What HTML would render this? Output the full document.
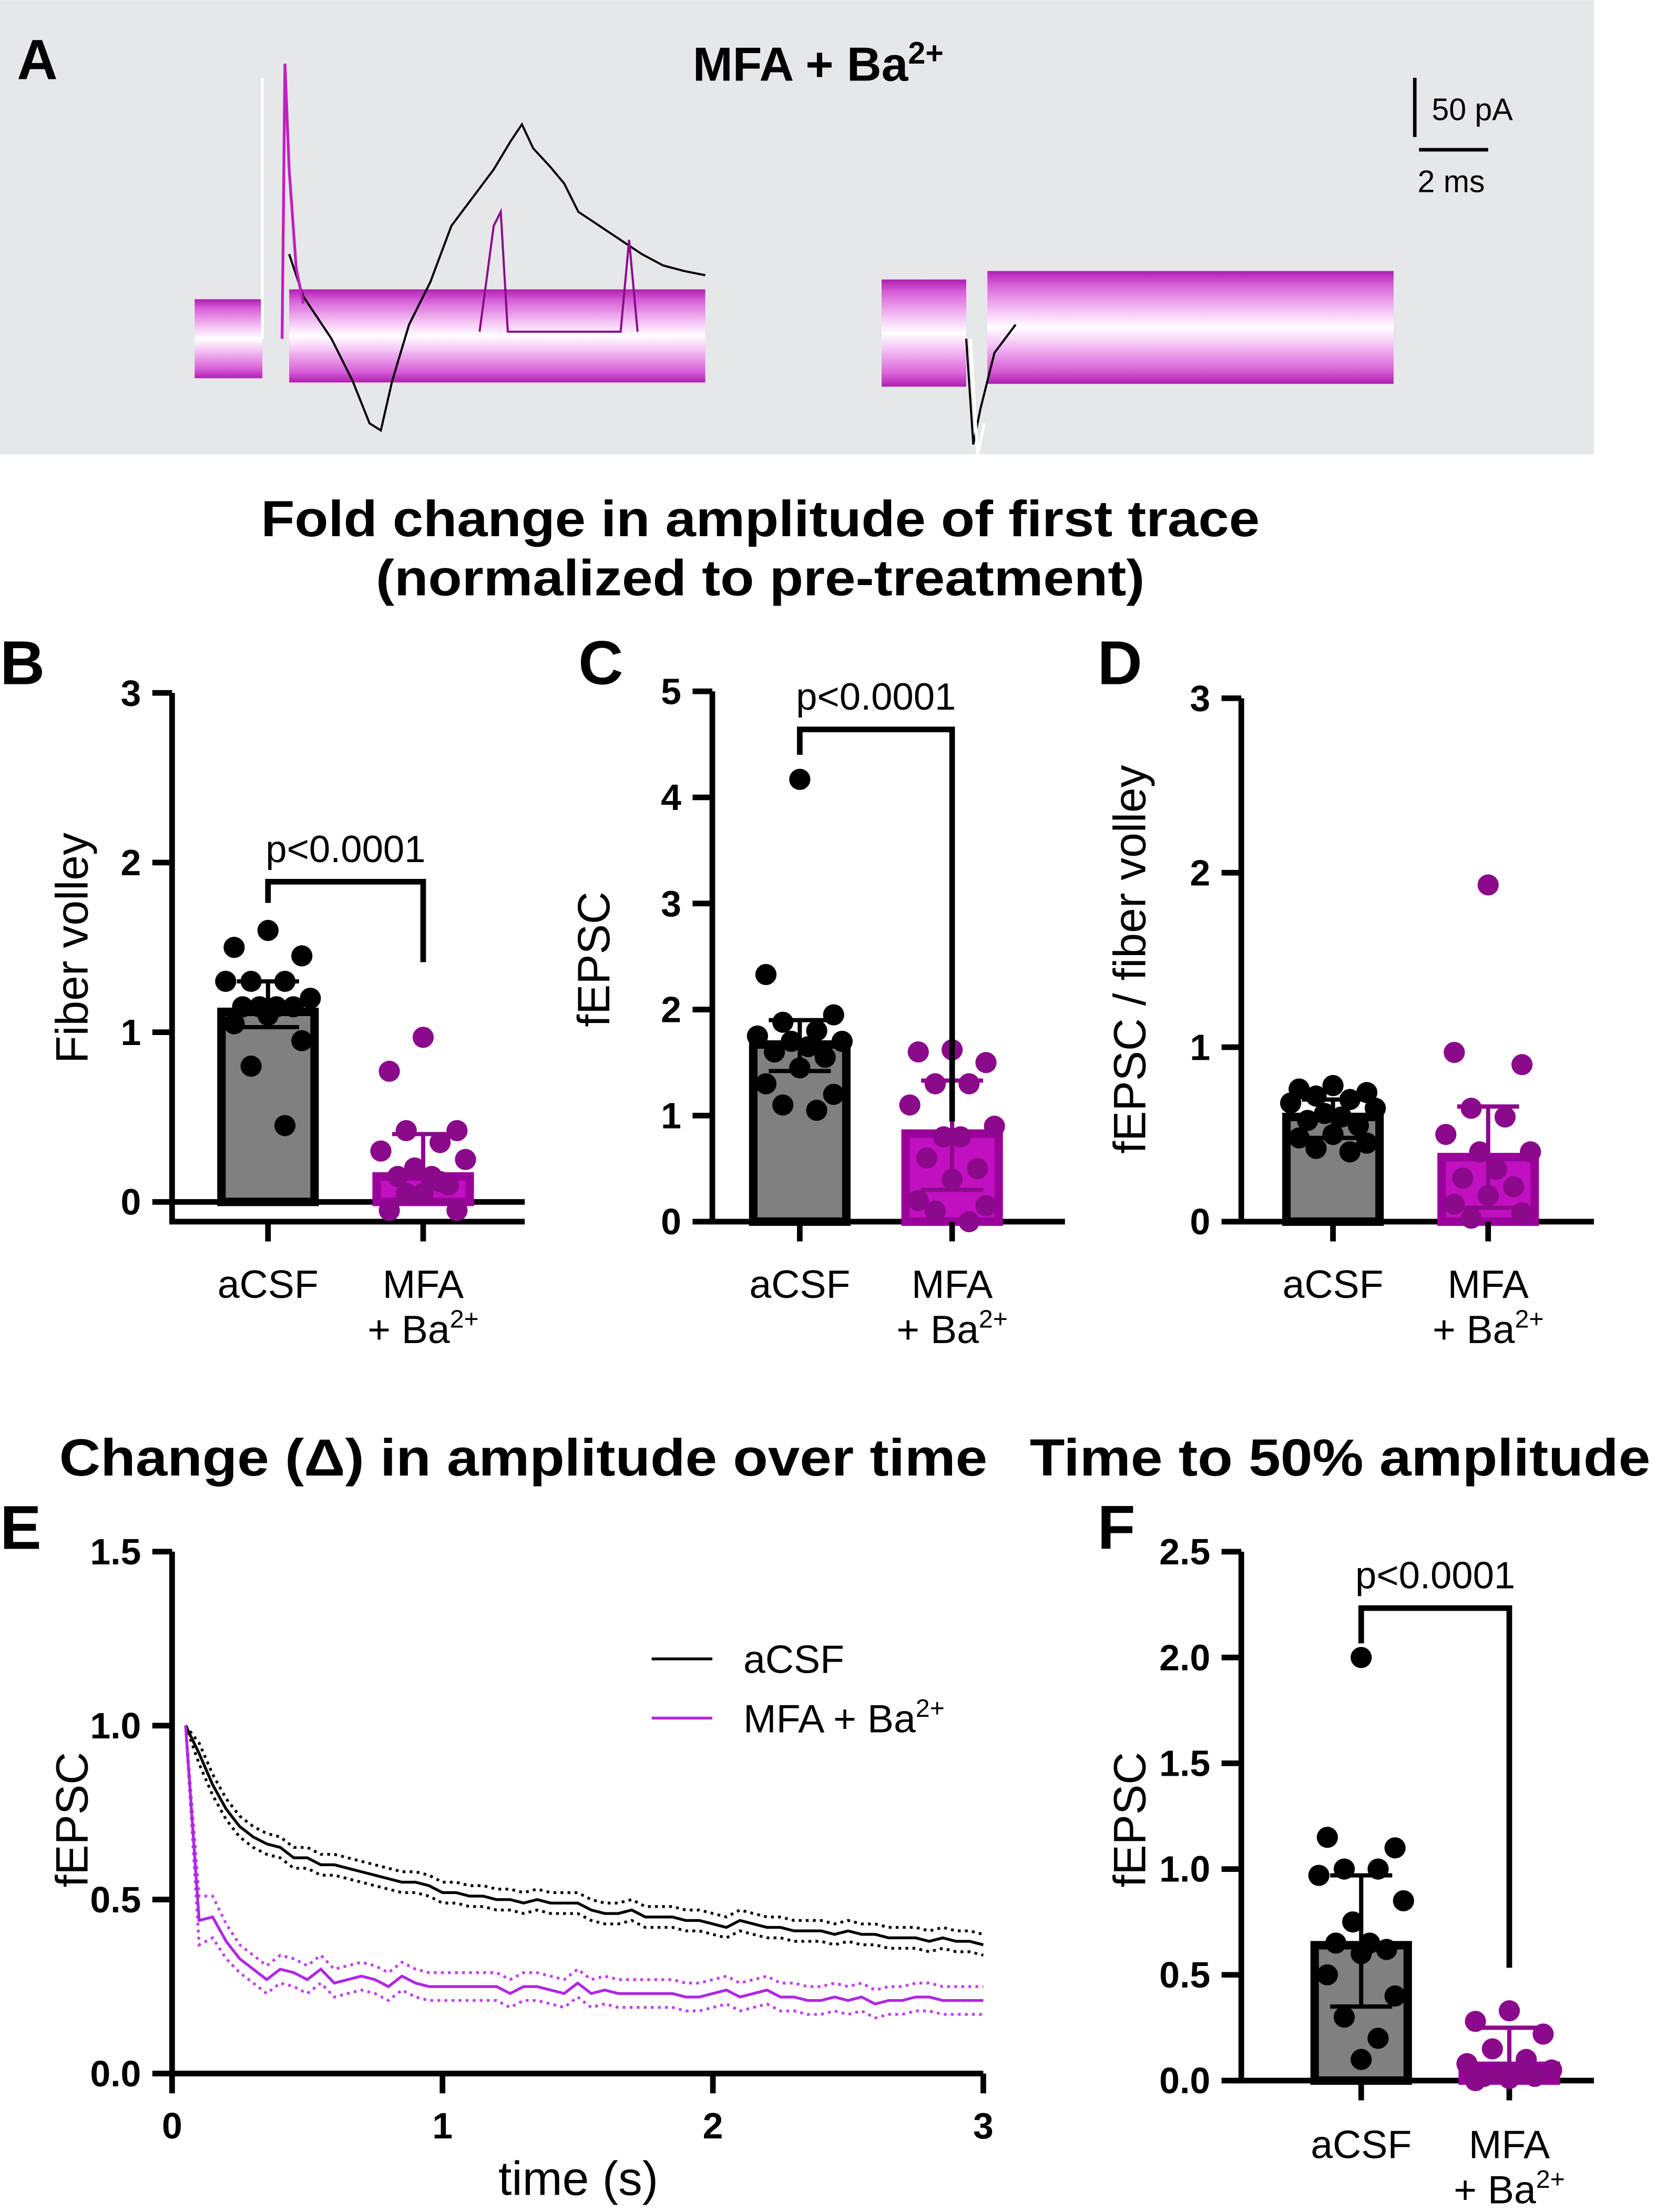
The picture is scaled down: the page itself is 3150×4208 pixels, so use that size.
<!DOCTYPE html>
<html><head><meta charset="utf-8"><style>
html,body{margin:0;padding:0;background:#fff;}
svg{display:block;font-family:"Liberation Sans",Arial,sans-serif;}
.b{font-weight:bold;}
</style></head><body>
<svg id="fig" width="3150" height="4208" viewBox="0 0 1174 1568" xmlns="http://www.w3.org/2000/svg">
<defs>
<linearGradient id="band" x1="0" y1="0" x2="0" y2="1">
<stop offset="0" stop-color="#b020b0"/><stop offset="0.12" stop-color="#d860d8"/><stop offset="0.35" stop-color="#f4c4f4"/><stop offset="0.5" stop-color="#ffffff"/><stop offset="0.65" stop-color="#f4c4f4"/><stop offset="0.88" stop-color="#d860d8"/><stop offset="1" stop-color="#b020b0"/>
</linearGradient>
</defs>
<g>
<rect x="0" y="0" width="1130" height="322" fill="#e6e7e8"/>
<text x="12" y="56" font-size="40" class="b">A</text>
<text x="580" y="57" font-size="34" class="b" text-anchor="middle">MFA + Ba<tspan font-size="22" dy="-12">2+</tspan></text>
<g>
<line x1="1003" y1="55" x2="1003" y2="97" stroke="#000" stroke-width="2.5"/>
<line x1="1006" y1="106" x2="1055" y2="106" stroke="#000" stroke-width="2.5"/>
<text x="1015" y="85" font-size="22">50 pA</text>
<text x="1005" y="136" font-size="22">2 ms</text>
</g>
<g>
<rect x="138" y="212" width="48" height="56" fill="url(#band)"/>
<rect x="205" y="205" width="295" height="66" fill="url(#band)"/>
<rect x="625" y="198" width="60" height="76" fill="url(#band)"/>
<rect x="700" y="192" width="288" height="80" fill="url(#band)"/>
<polyline fill="none" stroke="#000" stroke-width="1.5" points="205,180 215,210 235,240 250,270 262,300 270,305 278,270 290,230 305,200 320,160 335,140 350,120 362,100 370,88 378,105 390,118 400,130 410,150 425,160 440,170 455,180 470,188 485,192 500,195"/>
<polyline fill="none" stroke="#8b0a8b" stroke-width="1.5" points="340,235 350,160 355,150 360,235 440,235 446,170 452,235"/>
<polyline fill="none" stroke="#c020c0" stroke-width="2" points="200,240 202,45 205,120 210,190 215,215"/>
<line x1="186" y1="55" x2="186" y2="240" stroke="#fff" stroke-width="2"/>
<polyline fill="none" stroke="#000" stroke-width="1.5" points="685,240 690,315 695,290 705,250 720,230"/>
<polyline fill="none" stroke="#fff" stroke-width="2" points="688,240 693,322 698,300"/>
</g>
</g>
<text x="539" y="380" font-size="36" class="b" text-anchor="middle" textLength="708" lengthAdjust="spacingAndGlyphs">Fold change in amplitude of first trace</text>
<text x="539" y="422" font-size="36" class="b" text-anchor="middle" textLength="545" lengthAdjust="spacingAndGlyphs">(normalized to pre-treatment)</text>
<text x="371" y="1046" font-size="37" class="b" text-anchor="middle" textLength="658" lengthAdjust="spacingAndGlyphs">Change (Δ) in amplitude over time</text>
<text x="950" y="1046" font-size="37" class="b" text-anchor="middle" textLength="440" lengthAdjust="spacingAndGlyphs">Time to 50% amplitude</text>
</svg>
<script>
const NS="http://www.w3.org/2000/svg";
const svg=document.getElementById('fig');
// Panel B data
const bCats=["aCSF","MFA"];
const bMeans=[1.12,0.15];
const bErr=[[1.03,1.3],[0.0,0.4]];
const bA=[1.6,1.5,1.45,1.3,1.3,1.3,1.2,1.15,1.15,1.15,1.15,1.1,1.05,0.95,0.8,0.45];
const bM=[0.97,0.77,0.42,0.42,0.35,0.3,0.25,0.2,0.15,0.15,0.1,0.05,-0.05,-0.05,0.05,0.12];
const bTicks=[0,1,2,3];
// Panel C data
const cMeans=[1.67,0.83];
const cErr=[[1.42,1.9],[0.3,1.33]];
const cA=[4.17,2.33,1.95,1.88,1.8,1.75,1.7,1.7,1.65,1.6,1.55,1.45,1.3,1.2,1.1,1.05];
const cM=[1.62,1.6,1.5,1.3,1.3,1.1,0.9,0.8,0.8,0.6,0.5,0.4,0.2,0.15,0.1,0.0];
const cTicks=[0,1,2,3,4,5];
// Panel D data
const dMeans=[0.6,0.37];
const dErr=[[0.48,0.7],[0.08,0.66]];
const dA=[0.78,0.76,0.74,0.72,0.7,0.68,0.65,0.62,0.6,0.58,0.55,0.5,0.48,0.45,0.42,0.4];
const dM=[1.93,0.97,0.9,0.65,0.6,0.5,0.4,0.4,0.3,0.25,0.2,0.15,0.1,0.05,0.02];
const dTicks=[0,1,2,3];
// Panel F data
const fMeans=[0.64,0.07];
const fErr=[[0.35,0.97],[0,0.25]];
const fA=[2.0,1.15,1.1,1.0,1.0,0.97,0.85,0.75,0.65,0.65,0.62,0.6,0.5,0.4,0.3,0.2,0.1];
const fM=[0.33,0.28,0.22,0.15,0.1,0.08,0.05,0.04,0.03,0.02,0.02,0.01,0.0];
const fTicks=["0.0","0.5","1.0","1.5","2.0","2.5"];
// Panel E data
const eTime=[0.05,0.1,0.15,0.2,0.25,0.3,0.35,0.4,0.45,0.5,0.55,0.6,0.65,0.7,0.75,0.8,0.85,0.9,0.95,1.0,1.05,1.1,1.15,1.2,1.25,1.3,1.35,1.4,1.45,1.5,1.55,1.6,1.65,1.7,1.75,1.8,1.85,1.9,1.95,2.0,2.05,2.1,2.15,2.2,2.25,2.3,2.35,2.4,2.45,2.5,2.55,2.6,2.65,2.7,2.75,2.8,2.85,2.9,2.95,3.0];
const eACSF=[1.0,0.92,0.83,0.76,0.71,0.68,0.66,0.65,0.62,0.62,0.6,0.6,0.59,0.58,0.57,0.56,0.55,0.55,0.54,0.52,0.52,0.51,0.51,0.5,0.5,0.49,0.5,0.49,0.49,0.49,0.47,0.46,0.46,0.47,0.45,0.45,0.45,0.44,0.44,0.43,0.42,0.44,0.43,0.42,0.42,0.41,0.41,0.41,0.4,0.41,0.4,0.4,0.39,0.39,0.39,0.38,0.39,0.38,0.38,0.37];
const eACSFerr=[0,0.03,0.03,0.03,0.03,0.03,0.03,0.03,0.03,0.03,0.03,0.03,0.03,0.03,0.03,0.03,0.03,0.03,0.03,0.03,0.03,0.03,0.03,0.03,0.03,0.03,0.03,0.03,0.03,0.03,0.03,0.03,0.03,0.03,0.03,0.03,0.03,0.03,0.03,0.03,0.03,0.03,0.03,0.03,0.03,0.03,0.03,0.03,0.03,0.03,0.03,0.03,0.03,0.03,0.03,0.03,0.03,0.03,0.03,0.03];
const eMFA=[1.0,0.44,0.45,0.38,0.33,0.3,0.27,0.3,0.29,0.27,0.3,0.26,0.27,0.28,0.27,0.25,0.28,0.26,0.25,0.25,0.25,0.25,0.25,0.25,0.23,0.25,0.25,0.24,0.23,0.26,0.23,0.24,0.23,0.23,0.23,0.23,0.23,0.22,0.22,0.23,0.24,0.22,0.23,0.24,0.22,0.22,0.21,0.21,0.22,0.21,0.22,0.2,0.21,0.21,0.22,0.22,0.21,0.21,0.21,0.21];
const eMFAerr=[0,0.07,0.06,0.05,0.04,0.04,0.04,0.04,0.04,0.04,0.04,0.04,0.04,0.04,0.04,0.04,0.04,0.04,0.04,0.04,0.04,0.04,0.04,0.04,0.04,0.04,0.04,0.04,0.04,0.04,0.04,0.04,0.04,0.04,0.04,0.04,0.04,0.04,0.04,0.04,0.04,0.04,0.04,0.04,0.04,0.04,0.04,0.04,0.04,0.04,0.04,0.04,0.04,0.04,0.04,0.04,0.04,0.04,0.04,0.04];
const eYTicks=["0.0","0.5","1.0","1.5"];
const eXTicks=[0,1,2,3];

function mk(tag,attrs,parent){const el=document.createElementNS(NS,tag);for(const k in attrs)el.setAttribute(k,attrs[k]);(parent||svg).appendChild(el);return el;}
const JIT=[0,-24,24,-12,12,-30,30,-6,6,-18,18,0,-24,24,-12,12,0];
function barPanel(o){
  const g=mk('g',{});
  
  
  const y=v=>o.y0-(v-o.min)*o.ppu;
  const L=mk('text',{x:o.lx,y:o.ly,'font-size':44,'font-weight':'bold'},g);L.textContent=o.letter;
  
  
  const yt=mk('text',{x:0,y:0,'font-size':32,'text-anchor':'middle',transform:`translate(${o.titleX},${o.titleY}) rotate(-90)`},g);yt.textContent=o.ytitle;
  
  
  const ax=mk('line',{x1:o.ax,y1:y(o.max),x2:o.ax,y2:o.axBottom,stroke:'#000','stroke-width':4},g);
  
  
  const xa=mk('line',{x1:o.ax-2,y1:o.axBottom,x2:o.ax+250,y2:o.axBottom,stroke:'#000','stroke-width':4},g);
  
  
  o.ticks.forEach(t=>{const v=parseFloat(t);
    mk('line',{x1:o.ax-14,y1:y(v),x2:o.ax,y2:y(v),stroke:'#000','stroke-width':4},g);
    const tl=mk('text',{x:o.ax-22,y:y(v)+9,'font-size':26,'font-weight':'bold','text-anchor':'end'},g);tl.textContent=t;
    
    
  });
  if(o.zeroLine){const zl=mk('line',{x1:o.ax,y1:y(0),x2:o.ax+250,y2:y(0),stroke:'#000','stroke-width':4},g);
    
    }
  const cx=[o.ax+o.c1,o.ax+o.c2];
  const fills=['#808080','#c010c0'],strokes=['#000','#9a009a'],dots=['#000','#8b0a8b'];
  o.means.forEach((m,i)=>{
    const base=y(Math.max(o.min,0));
    const r=mk('rect',{x:cx[i]-33,y:Math.min(y(m),base),width:66,height:Math.abs(base-y(m)),fill:fills[i],stroke:strokes[i],'stroke-width':6},g);
    
    
    mk('line',{x1:cx[i],y1:o.axBottom,x2:cx[i],y2:o.axBottom+14,stroke:'#000','stroke-width':4},g);
    const pts=i==0?o.A:o.M;
    pts.forEach((v,j)=>{const c=mk('circle',{cx:cx[i]+JIT[j%JIT.length],cy:y(v),r:7.5,fill:dots[i]},g);
      
      });
    const e=o.err[i];
    const el=mk('path',{d:`M${cx[i]},${y(e[0])}V${y(e[1])}M${cx[i]-22},${y(e[0])}H${cx[i]+22}M${cx[i]-22},${y(e[1])}H${cx[i]+22}`,stroke:dots[i],'stroke-width':3,fill:'none'},g);
    
    
  });
  const l1=mk('text',{x:cx[0],y:o.labY,'font-size':28,'text-anchor':'middle'},g);l1.textContent='aCSF';
  
  
  const l2=mk('text',{x:cx[1],y:o.labY,'font-size':28,'text-anchor':'middle'},g);l2.textContent='MFA';
  
  
  const l3=mk('text',{x:cx[1],y:o.labY+32,'font-size':28,'text-anchor':'middle'},g);l3.innerHTML='+ Ba<tspan font-size="18" dy="-11">2+</tspan>';
  
  
  if(o.br){const b=o.br;
    const p=mk('path',{d:`M${cx[0]},${b[0]}V${b[1]}H${cx[1]}V${b[2]}`,stroke:'#000','stroke-width':4,fill:'none'},g);
    
    
    const t=mk('text',{x:(cx[0]+cx[1])/2,y:b[1]-14,'font-size':27,'text-anchor':'middle'},g);t.textContent='p<0.0001';
    
    }
}
barPanel({name:'panel-b',letter:'B',lx:0,ly:485,ytitle:'Fiber volley',titleX:62,titleY:672,ax:122,y0:852,min:0,max:3,ppu:120.3,axBottom:866,ticks:bTicks,zeroLine:true,c1:68,c2:178,means:bMeans,err:bErr,A:bA,M:bM,cats:bCats,labY:920,br:[640,625,682]});
barPanel({name:'panel-c',letter:'C',lx:410,ly:485,ytitle:'fEPSC',titleX:432,titleY:680,ax:505,y0:866,min:0,max:5,ppu:75.2,axBottom:866,ticks:cTicks,c1:62,c2:170,means:cMeans,err:cErr,A:cA,M:cM,cats:bCats,labY:920,br:[535,517,795]});
barPanel({name:'panel-d',letter:'D',lx:778,ly:485,ytitle:'fEPSC / fiber volley',titleX:812,titleY:680,ax:880,y0:866,min:0,max:3,ppu:123.7,axBottom:866,ticks:dTicks,c1:65,c2:175,means:dMeans,err:dErr,A:dA,M:dM,cats:bCats,labY:920});
barPanel({name:'panel-f',letter:'F',lx:778,ly:1098,ytitle:'fEPSC',titleX:812,titleY:1290,ax:880,y0:1475,min:0,max:2.5,ppu:150,axBottom:1475,ticks:fTicks,c1:85,c2:190,means:fMeans,err:fErr,A:fA,M:fM,cats:bCats,labY:1530,br:[1165,1140,1395]});

// Panel E
(function(){
  const g=mk('g',{});
  
  
  const X=t=>122+t*191.7, Y=v=>1470-v*246.7;
  const L=mk('text',{x:0,y:1098,'font-size':44,'font-weight':'bold'},g);L.textContent='E';
  
  
  const yt=mk('text',{x:0,y:0,'font-size':32,'text-anchor':'middle',transform:'translate(62,1290) rotate(-90)'},g);yt.textContent='fEPSC';
  
  
  const ya=mk('line',{x1:122,y1:Y(1.5),x2:122,y2:1472,stroke:'#000','stroke-width':4},g);
  
  
  const xa=mk('line',{x1:120,y1:1470,x2:X(3),y2:1470,stroke:'#000','stroke-width':4},g);
  
  
  eYTicks.forEach(t=>{const v=parseFloat(t);
    mk('line',{x1:108,y1:Y(v),x2:122,y2:Y(v),stroke:'#000','stroke-width':4},g);
    const tl=mk('text',{x:100,y:Y(v)+9,'font-size':26,'font-weight':'bold','text-anchor':'end'},g);tl.textContent=t;
    
    });
  eXTicks.forEach(t=>{
    mk('line',{x1:X(t),y1:1470,x2:X(t),y2:1484,stroke:'#000','stroke-width':4},g);
    const tl=mk('text',{x:X(t),y:1516,'font-size':26,'font-weight':'bold','text-anchor':'middle'},g);tl.textContent=t;
    
    });
  const xt=mk('text',{x:410,y:1556,'font-size':34,'text-anchor':'middle'},g);xt.textContent='time (s)';
  
  
  function line(vals,off,col,w,dash,name){
    const p=mk('polyline',{points:eTime.map((t,i)=>X(t)+','+Y(vals[i]+(off?off[i]:0))).join(' '),fill:'none',stroke:col,'stroke-width':w,'stroke-dasharray':dash||'none'},g);
    
    }
  const pos=a=>a, neg=a=>a.map(v=>-v);
  line(eACSF,pos(eACSFerr),'#000',2,'2 3','acsf-upper-error');
  line(eACSF,neg(eACSFerr),'#000',2,'2 3','acsf-lower-error');
  line(eMFA,pos(eMFAerr),'#c040f0',2,'2 3','mfa-upper-error');
  line(eMFA,neg(eMFAerr),'#c040f0',2,'2 3','mfa-lower-error');
  line(eACSF,null,'#000',2,null,'acsf-line');
  line(eMFA,null,'#b026e6',2,null,'mfa-line');
  const lg=mk('g',{},g);
  
  
  mk('line',{x1:462,y1:1176,x2:505,y2:1176,stroke:'#000','stroke-width':2},lg);
  const t1=mk('text',{x:527,y:1186,'font-size':28},lg);t1.textContent='aCSF';
  
  
  mk('line',{x1:462,y1:1218,x2:505,y2:1218,stroke:'#b026e6','stroke-width':2},lg);
  const t2=mk('text',{x:527,y:1228,'font-size':28},lg);t2.innerHTML='MFA + Ba<tspan font-size="18" dy="-11">2+</tspan>';
  
  
})();
</script>
</body></html>
